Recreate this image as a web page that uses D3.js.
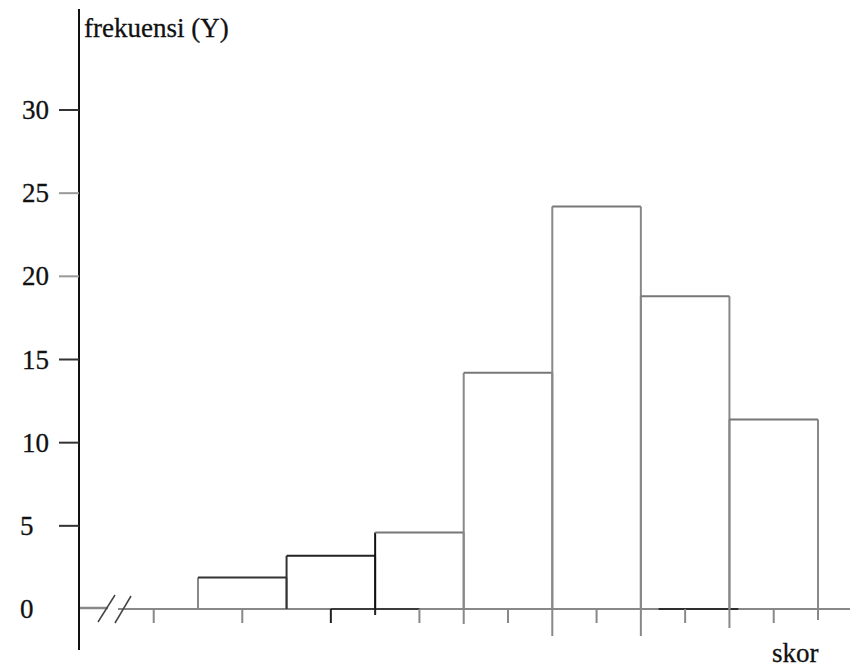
<!DOCTYPE html>
<html><head><meta charset="utf-8">
<script src="https://cdn.jsdelivr.net/npm/d3@7"></script>
<style>html,body{margin:0;padding:0;background:#fff;}svg{display:block;}</style>
</head><body>
<script>
// Data
const classes = [1, 2, 3, 4, 5, 6, 7];
const frekuensi = [1.9, 3.2, 4.6, 14.2, 24.2, 18.8, 11.4];
const yTicks = [0, 5, 10, 15, 20, 25, 30];
const yLabel = "frekuensi (Y)";
const xLabel = "skor";

const W = 856, H = 668;
const svg = d3.select("body").append("svg").attr("width", W).attr("height", H);
const font = "'Liberation Serif', 'DejaVu Serif', serif";

const x = d3.scaleLinear().domain([0, classes.length]).range([198, 818]);
const y = d3.scaleLinear().domain([0, 30]).range([609, 110]);
const axisX = 79;

// baseline (x axis)
svg.append("line").attr("x1", axisX).attr("x2", 108).attr("y1", y(0) - 1).attr("y2", y(0) - 1)
  .attr("stroke", "#888").attr("stroke-width", 2.5);
svg.append("line").attr("x1", 118).attr("x2", 850).attr("y1", y(0)).attr("y2", y(0))
  .attr("stroke", "#888").attr("stroke-width", 2);
// darker baseline segments
svg.append("line").attr("x1", x(1.5)).attr("x2", x(2.5)).attr("y1", y(0)).attr("y2", y(0))
  .attr("stroke", "#222").attr("stroke-width", 1.6);
svg.append("line").attr("x1", x(5.2)).attr("x2", x(6.1)).attr("y1", y(0)).attr("y2", y(0))
  .attr("stroke", "#111").attr("stroke-width", 1.6);

// axis break marks
[[98, 622, 115, 595], [115, 623, 131, 596]].forEach(d => {
  svg.append("line").attr("x1", d[0]).attr("y1", d[1]).attr("x2", d[2]).attr("y2", d[3])
    .attr("stroke", "#444").attr("stroke-width", 1.5);
});

// bars
const barStroke = ["#333", "#222", "#777", "#777", "#777", "#777", "#777"];
const leftStroke = ["#888", "#333", "#111", "#888", "#888", "#888", "#888"];
const g = svg.append("g");
classes.forEach((c, i) => {
  const x0 = x(i), x1 = x(i + 1), yt = y(frekuensi[i]);
  g.append("line").attr("x1", x1).attr("x2", x1).attr("y1", y(0)).attr("y2", yt)
    .attr("stroke", "#888").attr("stroke-width", 2);
  g.append("line").attr("x1", x0).attr("x2", x0).attr("y1", y(0)).attr("y2", yt)
    .attr("stroke", leftStroke[i]).attr("stroke-width", 2);
  g.append("line").attr("x1", x0).attr("x2", x1).attr("y1", yt).attr("y2", yt)
    .attr("stroke", barStroke[i]).attr("stroke-width", 2);
});

// x ticks: midpoints and class boundaries
const midTicks = d3.range(0, classes.length + 1).map(k => k - 0.5);
svg.selectAll(".mt").data(midTicks).enter().append("line")
  .attr("x1", d => x(d)).attr("x2", d => x(d))
  .attr("y1", y(0)).attr("y2", y(0) + 14)
  .attr("stroke", (d, i) => i === 2 ? "#222" : "#888").attr("stroke-width", 2);
const edgeLen = [0, 0, 0, 6, 15, 27, 27, 19, 11];
d3.range(0, classes.length + 1).forEach(k => {
  const L = edgeLen[k + 1] || 0;
  if (L > 0) svg.append("line").attr("x1", x(k)).attr("x2", x(k)).attr("y1", y(0)).attr("y2", y(0) + L)
    .attr("stroke", k === 2 ? "#222" : "#888").attr("stroke-width", 2);
});

// y axis
svg.append("line").attr("x1", axisX).attr("x2", axisX).attr("y1", 9).attr("y2", 650)
  .attr("stroke", "#111").attr("stroke-width", 2);
const yt = svg.selectAll(".yt").data(yTicks.filter(d => d > 0)).enter().append("g");
yt.append("line").attr("x1", axisX - 20).attr("x2", axisX).attr("y1", d => y(d)).attr("y2", d => y(d))
  .attr("stroke", (d) => (d === 20 || d === 25) ? "#999" : "#333").attr("stroke-width", 2);
svg.selectAll(".yl").data(yTicks).enter().append("text")
  .attr("x", d => d >= 10 ? 22 : 20).attr("y", d => y(d) + 9)
  .attr("font-family", font).attr("font-size", 27).attr("fill", "#111")
  .attr("stroke", "#111").attr("stroke-width", 0.3)
  .text(d => d);

// labels
svg.append("text").attr("x", 84).attr("y", 37).attr("font-family", font).attr("font-size", 27)
  .attr("fill", "#111").attr("stroke", "#111").attr("stroke-width", 0.3).text(yLabel);
svg.append("text").attr("x", 772).attr("y", 662).attr("font-family", font).attr("font-size", 27)
  .attr("fill", "#111").attr("stroke", "#111").attr("stroke-width", 0.3).text(xLabel);
</script>
</body></html>
